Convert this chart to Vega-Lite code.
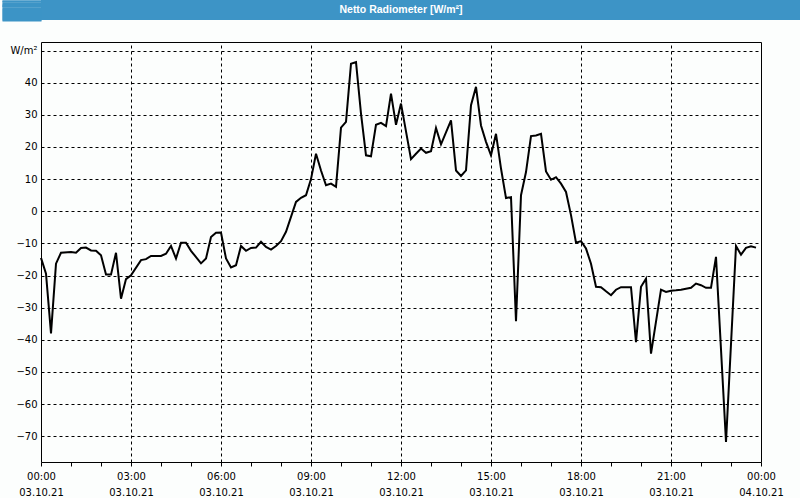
{
  "$schema": "https://vega.github.io/schema/vega-lite/v6.json",
  "padding": 0,
  "background": "#fcfefd",
  "spacing": 20,
  "config": {"font": "DejaVu Sans", "view": {"stroke": null}},
  "vconcat": [
    {
      "width": 760,
      "height": 20,
      "view": {"fill": "#3d94c6", "stroke": null},
      "data": {"values": [{"label": "Netto Radiometer [W/m²]", "pos": 0.5}]},
      "mark": {"type": "text", "color": "#ffffff", "font": "Liberation Sans", "fontWeight": "bold", "fontSize": 10.5, "baseline": "middle", "align": "center", "dx": -20},
      "encoding": {
        "text": {"field": "label", "type": "nominal"},
        "y": {
          "field": "pos",
          "type": "quantitative",
          "scale": {"domain": [0, 1]},
          "axis": {
            "title": null,
            "orient": "left",
            "values": [0.025, 0.075, 0.125, 0.175, 0.225, 0.275, 0.325, 0.375, 0.425, 0.475, 0.525, 0.575, 0.625, 0.675, 0.725, 0.775, 0.825, 0.875, 0.925, 0.975],
            "labels": false,
            "domain": false,
            "grid": false,
            "ticks": true,
            "tickSize": 39,
            "tickWidth": 2,
            "tickColor": "#3d94c6",
            "tickCap": "butt",
            "minExtent": 40,
            "maxExtent": 40
          }
        }
      }
    },
    {
      "width": 720,
      "height": 420,
      "view": {"stroke": "#000000", "strokeWidth": 1},
      "data": {"values": [
        {"t": "2021-10-03T00:00:00", "v": -14.5},
        {"t": "2021-10-03T00:10:00", "v": -19.4},
        {"t": "2021-10-03T00:20:00", "v": -38},
        {"t": "2021-10-03T00:30:00", "v": -16.3},
        {"t": "2021-10-03T00:40:00", "v": -12.9},
        {"t": "2021-10-03T01:00:00", "v": -12.7},
        {"t": "2021-10-03T01:10:00", "v": -12.9},
        {"t": "2021-10-03T01:20:00", "v": -11.4},
        {"t": "2021-10-03T01:30:00", "v": -11.3},
        {"t": "2021-10-03T01:40:00", "v": -12.2},
        {"t": "2021-10-03T01:50:00", "v": -12.3},
        {"t": "2021-10-03T02:00:00", "v": -13.7},
        {"t": "2021-10-03T02:10:00", "v": -19.7},
        {"t": "2021-10-03T02:20:00", "v": -19.7},
        {"t": "2021-10-03T02:30:00", "v": -12.9},
        {"t": "2021-10-03T02:40:00", "v": -27.2},
        {"t": "2021-10-03T02:50:00", "v": -21.1},
        {"t": "2021-10-03T03:00:00", "v": -19.9},
        {"t": "2021-10-03T03:20:00", "v": -15.2},
        {"t": "2021-10-03T03:30:00", "v": -14.9},
        {"t": "2021-10-03T03:40:00", "v": -13.9},
        {"t": "2021-10-03T04:00:00", "v": -13.9},
        {"t": "2021-10-03T04:10:00", "v": -13.2},
        {"t": "2021-10-03T04:20:00", "v": -10.8},
        {"t": "2021-10-03T04:30:00", "v": -14.7},
        {"t": "2021-10-03T04:40:00", "v": -9.8},
        {"t": "2021-10-03T04:50:00", "v": -9.8},
        {"t": "2021-10-03T05:00:00", "v": -12.3},
        {"t": "2021-10-03T05:20:00", "v": -16.2},
        {"t": "2021-10-03T05:30:00", "v": -14.7},
        {"t": "2021-10-03T05:40:00", "v": -8},
        {"t": "2021-10-03T05:50:00", "v": -6.7},
        {"t": "2021-10-03T06:00:00", "v": -6.6},
        {"t": "2021-10-03T06:10:00", "v": -14.7},
        {"t": "2021-10-03T06:20:00", "v": -17.5},
        {"t": "2021-10-03T06:30:00", "v": -16.8},
        {"t": "2021-10-03T06:40:00", "v": -10.8},
        {"t": "2021-10-03T06:50:00", "v": -12.3},
        {"t": "2021-10-03T07:00:00", "v": -11.4},
        {"t": "2021-10-03T07:10:00", "v": -11.3},
        {"t": "2021-10-03T07:20:00", "v": -9.5},
        {"t": "2021-10-03T07:30:00", "v": -11.1},
        {"t": "2021-10-03T07:40:00", "v": -11.9},
        {"t": "2021-10-03T07:50:00", "v": -10.8},
        {"t": "2021-10-03T08:00:00", "v": -9.3},
        {"t": "2021-10-03T08:10:00", "v": -6.4},
        {"t": "2021-10-03T08:30:00", "v": 2.9},
        {"t": "2021-10-03T08:40:00", "v": 4.2},
        {"t": "2021-10-03T08:50:00", "v": 5},
        {"t": "2021-10-03T09:00:00", "v": 10},
        {"t": "2021-10-03T09:10:00", "v": 17.9},
        {"t": "2021-10-03T09:20:00", "v": 12.7},
        {"t": "2021-10-03T09:30:00", "v": 8.1},
        {"t": "2021-10-03T09:40:00", "v": 8.6},
        {"t": "2021-10-03T09:50:00", "v": 7.6},
        {"t": "2021-10-03T10:00:00", "v": 26},
        {"t": "2021-10-03T10:10:00", "v": 27.8},
        {"t": "2021-10-03T10:20:00", "v": 45.9},
        {"t": "2021-10-03T10:30:00", "v": 46.4},
        {"t": "2021-10-03T10:40:00", "v": 30.4},
        {"t": "2021-10-03T10:50:00", "v": 17.4},
        {"t": "2021-10-03T11:00:00", "v": 17.1},
        {"t": "2021-10-03T11:10:00", "v": 26.9},
        {"t": "2021-10-03T11:20:00", "v": 27.5},
        {"t": "2021-10-03T11:30:00", "v": 26.5},
        {"t": "2021-10-03T11:40:00", "v": 36.6},
        {"t": "2021-10-03T11:50:00", "v": 26.9},
        {"t": "2021-10-03T12:00:00", "v": 33.5},
        {"t": "2021-10-03T12:20:00", "v": 16.2},
        {"t": "2021-10-03T12:30:00", "v": 17.9},
        {"t": "2021-10-03T12:40:00", "v": 19.5},
        {"t": "2021-10-03T12:50:00", "v": 18.2},
        {"t": "2021-10-03T13:00:00", "v": 18.7},
        {"t": "2021-10-03T13:10:00", "v": 25.9},
        {"t": "2021-10-03T13:20:00", "v": 20.8},
        {"t": "2021-10-03T13:40:00", "v": 28.3},
        {"t": "2021-10-03T13:50:00", "v": 12.7},
        {"t": "2021-10-03T14:00:00", "v": 11},
        {"t": "2021-10-03T14:10:00", "v": 12.7},
        {"t": "2021-10-03T14:20:00", "v": 33},
        {"t": "2021-10-03T14:30:00", "v": 38.7},
        {"t": "2021-10-03T14:40:00", "v": 26.7},
        {"t": "2021-10-03T14:50:00", "v": 21.6},
        {"t": "2021-10-03T15:00:00", "v": 17.4},
        {"t": "2021-10-03T15:10:00", "v": 24.1},
        {"t": "2021-10-03T15:20:00", "v": 13.3},
        {"t": "2021-10-03T15:30:00", "v": 4.1},
        {"t": "2021-10-03T15:40:00", "v": 4.4},
        {"t": "2021-10-03T15:50:00", "v": -34.2},
        {"t": "2021-10-03T16:00:00", "v": 5},
        {"t": "2021-10-03T16:10:00", "v": 12.2},
        {"t": "2021-10-03T16:20:00", "v": 23.4},
        {"t": "2021-10-03T16:30:00", "v": 23.6},
        {"t": "2021-10-03T16:40:00", "v": 24.1},
        {"t": "2021-10-03T16:50:00", "v": 12.4},
        {"t": "2021-10-03T17:00:00", "v": 9.8},
        {"t": "2021-10-03T17:10:00", "v": 10.6},
        {"t": "2021-10-03T17:20:00", "v": 8.6},
        {"t": "2021-10-03T17:30:00", "v": 6},
        {"t": "2021-10-03T17:40:00", "v": -1.2},
        {"t": "2021-10-03T17:50:00", "v": -9.8},
        {"t": "2021-10-03T18:00:00", "v": -9.3},
        {"t": "2021-10-03T18:10:00", "v": -11.6},
        {"t": "2021-10-03T18:20:00", "v": -16.3},
        {"t": "2021-10-03T18:30:00", "v": -23.5},
        {"t": "2021-10-03T18:40:00", "v": -23.6},
        {"t": "2021-10-03T18:50:00", "v": -24.9},
        {"t": "2021-10-03T19:00:00", "v": -26.1},
        {"t": "2021-10-03T19:10:00", "v": -24.4},
        {"t": "2021-10-03T19:20:00", "v": -23.6},
        {"t": "2021-10-03T19:30:00", "v": -23.6},
        {"t": "2021-10-03T19:40:00", "v": -23.6},
        {"t": "2021-10-03T19:50:00", "v": -40.7},
        {"t": "2021-10-03T20:00:00", "v": -23.5},
        {"t": "2021-10-03T20:10:00", "v": -21},
        {"t": "2021-10-03T20:20:00", "v": -44.3},
        {"t": "2021-10-03T20:40:00", "v": -24.4},
        {"t": "2021-10-03T20:50:00", "v": -25.1},
        {"t": "2021-10-03T21:00:00", "v": -24.7},
        {"t": "2021-10-03T21:10:00", "v": -24.6},
        {"t": "2021-10-03T21:20:00", "v": -24.4},
        {"t": "2021-10-03T21:30:00", "v": -24.1},
        {"t": "2021-10-03T21:40:00", "v": -23.8},
        {"t": "2021-10-03T21:50:00", "v": -22.5},
        {"t": "2021-10-03T22:00:00", "v": -23},
        {"t": "2021-10-03T22:10:00", "v": -23.8},
        {"t": "2021-10-03T22:20:00", "v": -23.8},
        {"t": "2021-10-03T22:30:00", "v": -14.2},
        {"t": "2021-10-03T22:50:00", "v": -71.8},
        {"t": "2021-10-03T23:10:00", "v": -10.8},
        {"t": "2021-10-03T23:20:00", "v": -13.5},
        {"t": "2021-10-03T23:30:00", "v": -11.4},
        {"t": "2021-10-03T23:40:00", "v": -10.9},
        {"t": "2021-10-03T23:50:00", "v": -11.3}
      ]},
      "encoding": {
        "y": {
          "field": "v",
          "type": "quantitative",
          "scale": {"domain": [-78, 52.66], "nice": false, "zero": false},
          "axis": {
            "title": null,
            "values": [-70, -60, -50, -40, -30, -20, -10, 0, 10, 20, 30, 40, 50],
            "labelExpr": "datum.value === 50 ? 'W/m²' : datum.label",
            "domain": false,
            "ticks": false,
            "grid": true,
            "gridColor": "#000000",
            "gridDash": [3, 3],
            "gridWidth": 1,
            "labelColor": "#000000",
            "labelFontSize": 10,
            "labelPadding": 4,
            "minExtent": 40,
            "maxExtent": 40
          }
        }
      },
      "layer": [
        {
          "mark": {"type": "line", "opacity": 0},
          "encoding": {
            "x": {
              "field": "t",
              "type": "temporal",
              "scale": {
                "domain": [
                  {"year": 2021, "month": 10, "date": 3, "hours": 0},
                  {"year": 2021, "month": 10, "date": 4, "hours": 0}
                ],
                "nice": false
              },
              "axis": {
                "orient": "top",
                "title": null,
                "values": [
                  {"year": 2021, "month": 10, "date": 3, "hours": 3},
                  {"year": 2021, "month": 10, "date": 3, "hours": 6},
                  {"year": 2021, "month": 10, "date": 3, "hours": 9},
                  {"year": 2021, "month": 10, "date": 3, "hours": 12},
                  {"year": 2021, "month": 10, "date": 3, "hours": 15},
                  {"year": 2021, "month": 10, "date": 3, "hours": 18},
                  {"year": 2021, "month": 10, "date": 3, "hours": 21}
                ],
                "domain": false,
                "ticks": false,
                "labels": false,
                "grid": true,
                "gridColor": "#000000",
                "gridDash": [3, 3],
                "gridWidth": 1
              }
            }
          }
        },
        {
          "mark": {"type": "line", "color": "#000000", "strokeWidth": 2},
          "encoding": {
            "x": {
              "field": "t",
              "type": "temporal",
              "axis": {
                "orient": "bottom",
                "title": null,
                "values": [
                  {"year": 2021, "month": 10, "date": 3, "hours": 0},
                  {"year": 2021, "month": 10, "date": 3, "hours": 1},
                  {"year": 2021, "month": 10, "date": 3, "hours": 2},
                  {"year": 2021, "month": 10, "date": 3, "hours": 3},
                  {"year": 2021, "month": 10, "date": 3, "hours": 4},
                  {"year": 2021, "month": 10, "date": 3, "hours": 5},
                  {"year": 2021, "month": 10, "date": 3, "hours": 6},
                  {"year": 2021, "month": 10, "date": 3, "hours": 7},
                  {"year": 2021, "month": 10, "date": 3, "hours": 8},
                  {"year": 2021, "month": 10, "date": 3, "hours": 9},
                  {"year": 2021, "month": 10, "date": 3, "hours": 10},
                  {"year": 2021, "month": 10, "date": 3, "hours": 11},
                  {"year": 2021, "month": 10, "date": 3, "hours": 12},
                  {"year": 2021, "month": 10, "date": 3, "hours": 13},
                  {"year": 2021, "month": 10, "date": 3, "hours": 14},
                  {"year": 2021, "month": 10, "date": 3, "hours": 15},
                  {"year": 2021, "month": 10, "date": 3, "hours": 16},
                  {"year": 2021, "month": 10, "date": 3, "hours": 17},
                  {"year": 2021, "month": 10, "date": 3, "hours": 18},
                  {"year": 2021, "month": 10, "date": 3, "hours": 19},
                  {"year": 2021, "month": 10, "date": 3, "hours": 20},
                  {"year": 2021, "month": 10, "date": 3, "hours": 21},
                  {"year": 2021, "month": 10, "date": 3, "hours": 22},
                  {"year": 2021, "month": 10, "date": 3, "hours": 23},
                  {"year": 2021, "month": 10, "date": 4, "hours": 0}
                ],
                "domain": false,
                "grid": false,
                "ticks": true,
                "tickColor": "#000000",
                "tickSize": 4,
                "labelExpr": "hours(datum.value) % 3 === 0 ? [timeFormat(datum.value, '%H:%M'), timeFormat(datum.value, '%d.%m.%y')] : ''",
                "labelColor": "#000000",
                "labelFontSize": 10,
                "labelLineHeight": 16,
                "labelPadding": 5,
                "labelOverlap": false,
                "labelFlush": false,
                "labelBound": false
              }
            }
          }
        }
      ],
      "resolve": {"axis": {"x": "independent"}}
    }
  ]
}
